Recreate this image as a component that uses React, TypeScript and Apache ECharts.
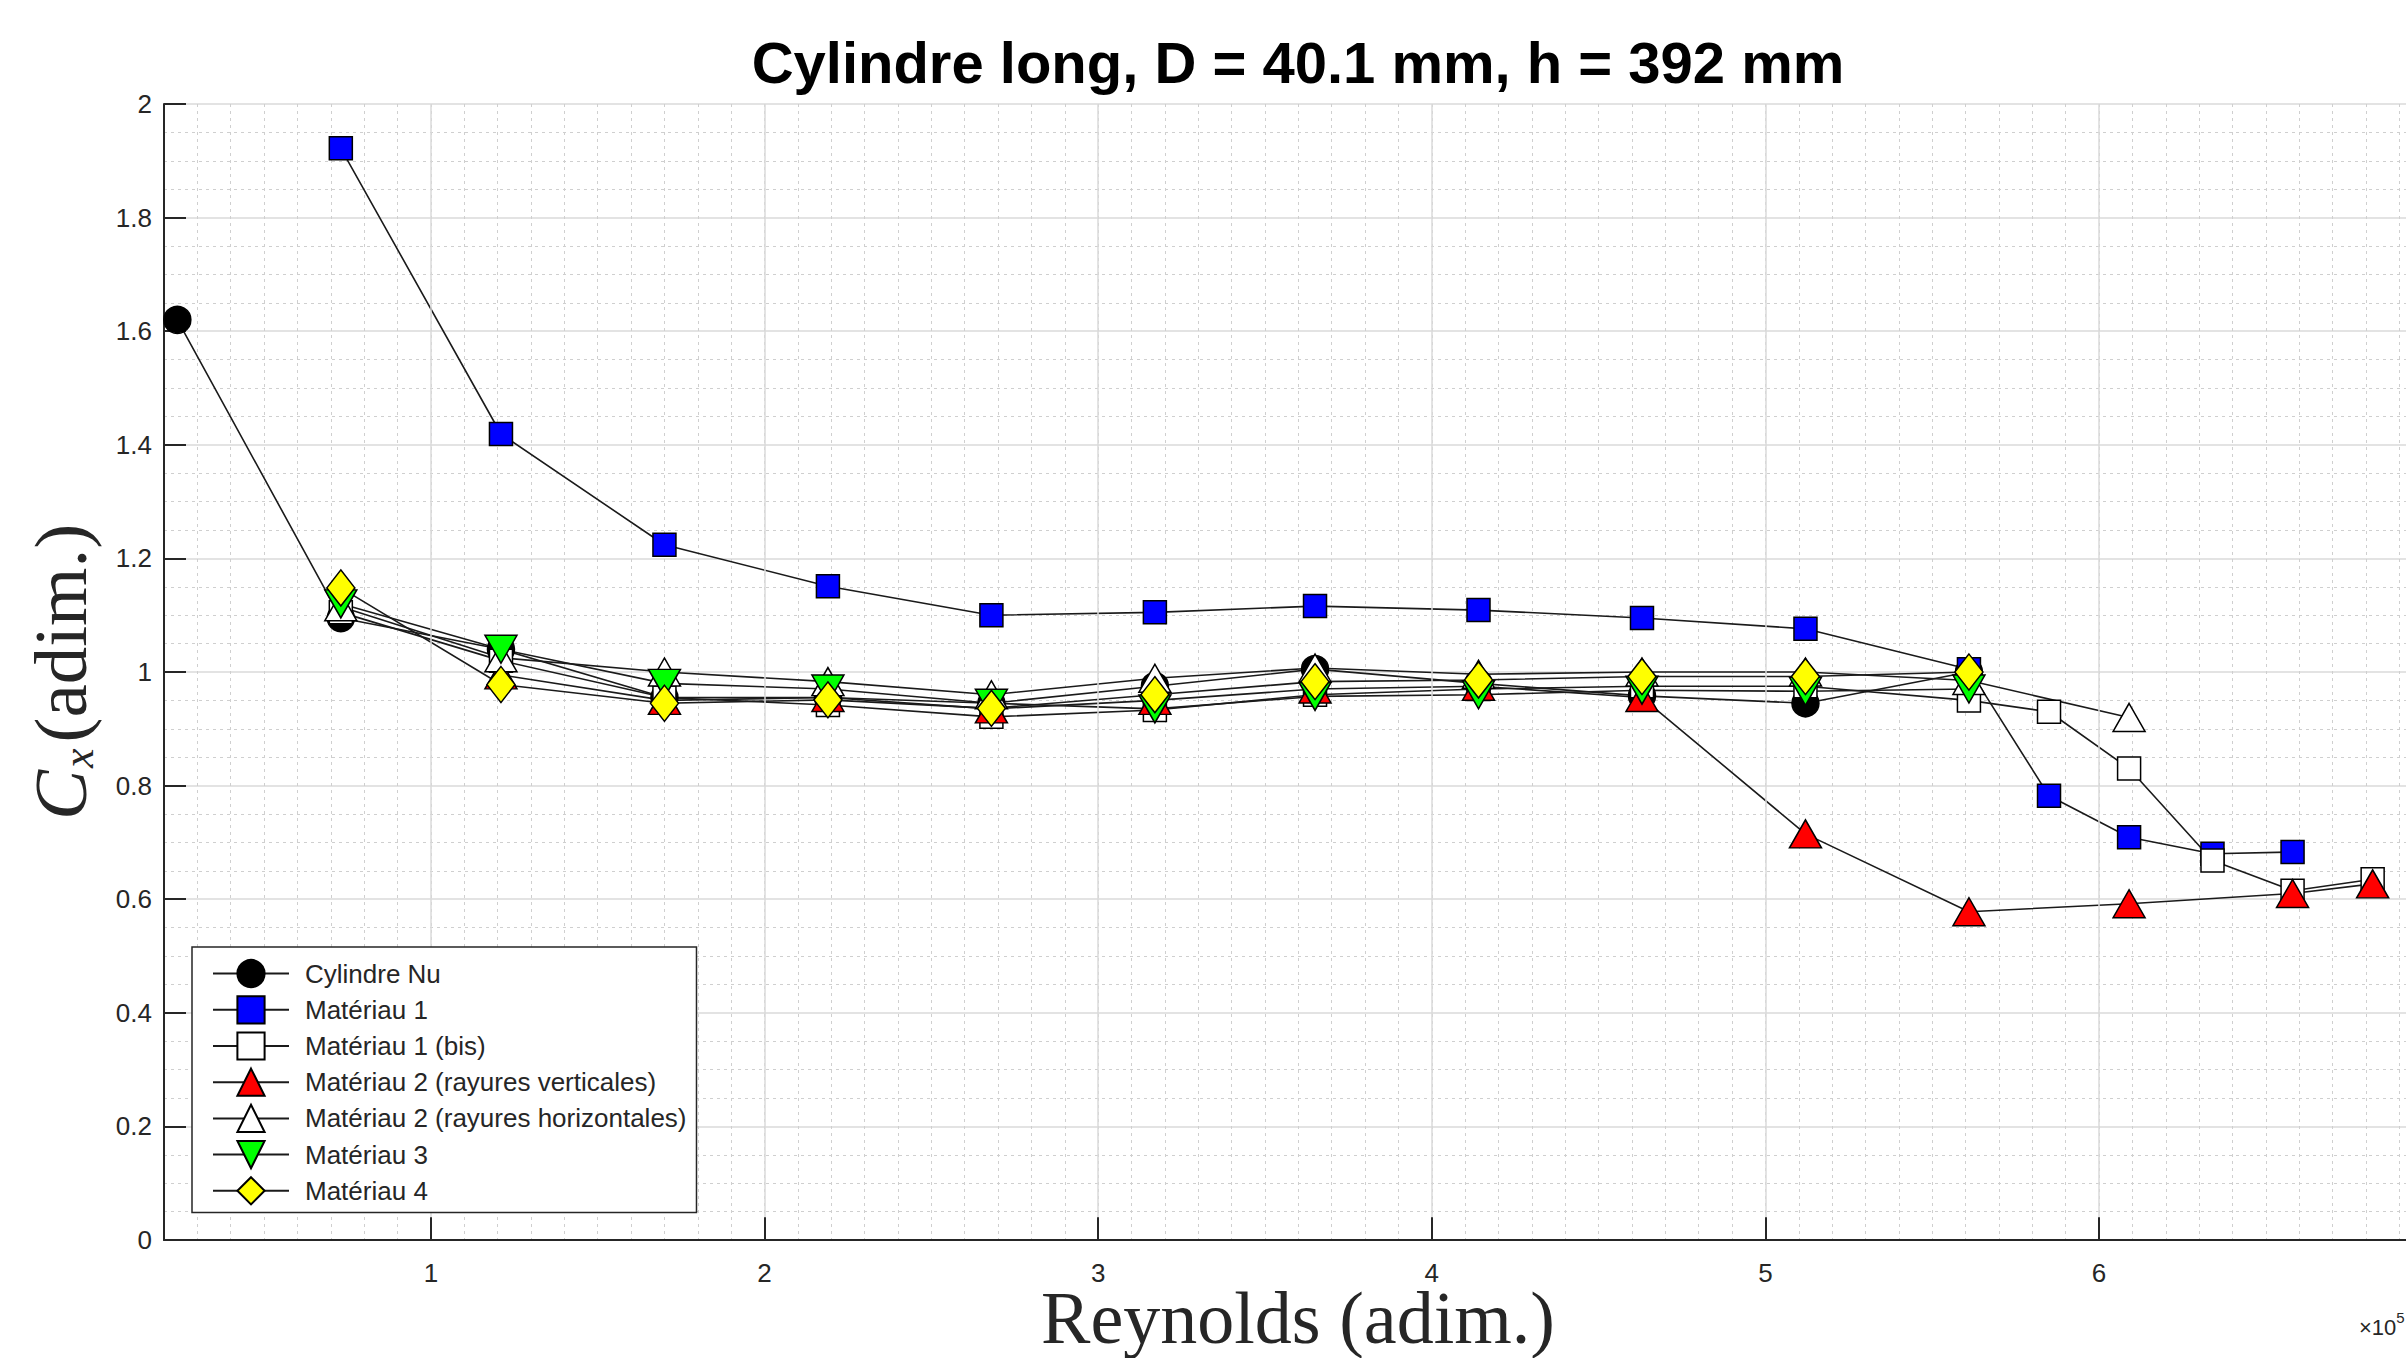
import React, { useEffect, useRef } from "react";
import * as echarts from "echarts";

// Reynolds (×10^5) and Cx values
const reCylindre = [0.24, 0.73, 1.21, 1.7, 2.19, 2.68, 3.17, 3.65, 4.14, 4.63, 5.12, 5.61];
const cxCylindre = [1.62, 1.095, 1.04, 0.955, 0.955, 0.945, 0.975, 1.005, 0.98, 0.958, 0.945, 1.0];

const reMat1 = [0.73, 1.21, 1.7, 2.19, 2.68, 3.17, 3.65, 4.14, 4.63, 5.12, 5.61, 5.85, 6.09, 6.34, 6.58];
const cxMat1 = [1.922, 1.419, 1.224, 1.151, 1.1, 1.105, 1.116, 1.109, 1.095, 1.076, 1.005, 0.782, 0.709, 0.68, 0.683];

const reMat1bis = [0.73, 1.21, 1.7, 2.19, 2.68, 3.17, 3.65, 4.14, 4.63, 5.12, 5.61, 5.85, 6.09, 6.34, 6.58, 6.82];
const cxMat1bis = [1.105, 1.02, 0.955, 0.942, 0.921, 0.933, 0.96, 0.97, 0.975, 0.975, 0.95, 0.93, 0.83, 0.668, 0.615, 0.635];

const reMat2v = [1.21, 1.7, 2.19, 2.68, 3.17, 3.65, 4.14, 4.63, 5.12, 5.61, 6.09, 6.58, 6.82];
const cxMat2v = [0.995, 0.95, 0.955, 0.935, 0.95, 0.97, 0.975, 0.955, 0.715, 0.578, 0.592, 0.61, 0.627];

const reMat2h = [0.73, 1.21, 1.7, 2.19, 2.68, 3.17, 3.65, 4.14, 4.63, 5.12, 5.61, 6.09];
const cxMat2h = [1.115, 1.025, 1.0, 0.983, 0.96, 0.989, 1.007, 0.996, 1.0, 1.0, 0.985, 0.92];

const reMat3 = [0.73, 1.21, 1.7, 2.19, 2.68, 3.17, 3.65, 4.14, 4.63, 5.12, 5.61];
const cxMat3 = [1.12, 1.04, 0.98, 0.97, 0.945, 0.935, 0.957, 0.96, 0.968, 0.966, 0.97];

const reMat4 = [0.73, 1.21, 1.7, 2.19, 2.68, 3.17, 3.65, 4.14, 4.63, 5.12, 5.61];
const cxMat4 = [1.148, 0.978, 0.945, 0.951, 0.936, 0.96, 0.983, 0.986, 0.992, 0.992, 1.0];

const seriesNames = [
  "Cylindre Nu",
  "Matériau 1",
  "Matériau 1 (bis)",
  "Matériau 2 (rayures verticales)",
  "Matériau 2 (rayures horizontales)",
  "Matériau 3",
  "Matériau 4",
];

const xMajorTicks = [1, 2, 3, 4, 5, 6];

const TITLE = "Cylindre long, D = 40.1 mm, h = 392 mm";
const X_TITLE = "Reynolds (adim.)";
const SANS = '"Liberation Sans", Arial, sans-serif';
const SERIF = '"Liberation Serif", "Times New Roman", serif';
const AXIS_COLOR = "#262626";

function makeSeries(
  name: string,
  xs: number[],
  ys: number[],
  symbol: string,
  size: number | number[],
  color: string,
  rotate = 0
) {
  return {
    type: "line",
    name,
    data: xs.map((x, i) => [x, ys[i]]),
    symbol,
    symbolSize: size,
    symbolRotate: rotate,
    showAllSymbol: true,
    lineStyle: { color: "#1a1a1a", width: 1.6 },
    itemStyle: { color, borderColor: "#000", borderWidth: 1.5, opacity: 1 },
    emphasis: { disabled: true },
    z: 3,
  };
}

export default function App() {
  const ref = useRef<HTMLDivElement>(null);

  useEffect(() => {
    if (!ref.current) return;
    const chart = echarts.init(ref.current, null, { renderer: "svg" });

    const option: any = {
      animation: false,
      backgroundColor: "#ffffff",
      grid: { left: 164, top: 104, bottom: 118, right: 0, containLabel: false, outerBoundsMode: "none" },
      graphic: [
        {
          type: "text",
          x: 1298,
          y: 62,
          z: 20,
          style: {
            text: TITLE,
            font: `bold 58px ${SANS}`,
            fill: "#000",
            align: "center",
            verticalAlign: "middle",
            textAlign: "center",
            textVerticalAlign: "middle",
          },
        },
        {
          type: "text",
          x: 1298,
          y: 1318,
          z: 20,
          style: {
            text: X_TITLE,
            font: `74px ${SERIF}`,
            fill: AXIS_COLOR,
            align: "center",
            verticalAlign: "middle",
            textAlign: "center",
            textVerticalAlign: "middle",
          },
        },
        {
          type: "text",
          x: 2359,
          y: 1306,
          z: 20,
          style: {
            text: "{a|×10}{b|5}",
            rich: {
              a: { fontFamily: SANS, fontSize: 22, fill: AXIS_COLOR, color: AXIS_COLOR, padding: [10, 0, 0, 0] },
              b: { fontFamily: SANS, fontSize: 15, fill: AXIS_COLOR, color: AXIS_COLOR, padding: [0, 0, 10, 0] },
            },
          },
        },
      ],
      legend: {
        data: seriesNames,
        orient: "vertical",
        left: 192,
        top: 947,
        padding: [12, 10, 7, 20],
        itemWidth: 76,
        itemHeight: 34,
        itemGap: 7,
        backgroundColor: "#ffffff",
        borderColor: AXIS_COLOR,
        borderWidth: 1.5,
        selectedMode: false,
        textStyle: { fontFamily: SANS, fontSize: 26, color: AXIS_COLOR, padding: [0, 0, 0, 11] },
        z: 10,
      },
      xAxis: {
        type: "value",
        min: 0.2,
        max: 6.92,
        interval: 0.1,
        axisLine: { show: true, onZero: false, lineStyle: { color: AXIS_COLOR, width: 2 } },
        axisTick: { show: false },
        axisLabel: {
          margin: 20,
          fontFamily: SANS,
          fontSize: 26,
          color: AXIS_COLOR,
          formatter: (v: number) => {
            const r = Math.round(v);
            return Math.abs(v - r) < 1e-6 && r <= 6 ? String(r) : "";
          },
        },
        splitLine: { show: true, lineStyle: { color: "#cfcfcf", width: 1, type: [3, 4] } },
      },
      yAxis: {
        type: "value",
        min: 0,
        max: 2,
        interval: 0.2,
        name: "{c|C}{s|x}{p|(adim.)}",
        nameLocation: "middle",
        nameGap: 64,
        nameMoveOverlap: false,
        nameTextStyle: {
          fontFamily: SERIF,
          fontSize: 75,
          color: AXIS_COLOR,
          rich: {
            c: { fontFamily: SERIF, fontStyle: "italic", fontSize: 75, color: AXIS_COLOR },
            s: { fontFamily: SERIF, fontStyle: "italic", fontSize: 44, color: AXIS_COLOR, padding: [36, 6, 0, 2] },
            p: { fontFamily: SERIF, fontSize: 75, color: AXIS_COLOR },
          },
        },
        axisLine: { show: true, onZero: false, lineStyle: { color: AXIS_COLOR, width: 2 } },
        axisTick: { show: true, inside: true, length: 22, lineStyle: { color: AXIS_COLOR, width: 2 } },
        axisLabel: { margin: 12, fontFamily: SANS, fontSize: 26, color: AXIS_COLOR },
        splitLine: { show: true, lineStyle: { color: "#dadada", width: 1.5, type: "solid" } },
        minorTick: { show: false, splitNumber: 4 },
        minorSplitLine: { show: true, lineStyle: { color: "#cfcfcf", width: 1, type: [3, 4] } },
      },
      series: [
        {
          type: "line",
          name: "_majorGrid",
          data: [],
          silent: true,
          z: 1,
          markLine: {
            silent: true,
            animation: false,
            symbol: ["none", "none"],
            label: { show: false },
            lineStyle: { color: "#dadada", width: 1.5, type: "solid" },
            data: xMajorTicks.map((v) => ({ xAxis: v })),
          },
        },
        {
          type: "line",
          name: "_xTicks",
          data: [],
          silent: true,
          z: 4,
          markLine: {
            silent: true,
            animation: false,
            symbol: ["none", "none"],
            label: { show: false },
            lineStyle: { color: AXIS_COLOR, width: 2, type: "solid" },
            data: xMajorTicks.map((v) => [{ coord: [v, 0] }, { coord: [v, 0.04] }]),
          },
        },
        makeSeries(seriesNames[0], reCylindre, cxCylindre, "circle", 27, "#000000"),
        makeSeries(seriesNames[1], reMat1, cxMat1, "rect", 23, "#0000ff"),
        makeSeries(seriesNames[2], reMat1bis, cxMat1bis, "rect", 23, "#ffffff"),
        makeSeries(seriesNames[3], reMat2v, cxMat2v, "triangle", [32, 28], "#ff0000"),
        makeSeries(seriesNames[4], reMat2h, cxMat2h, "triangle", [32, 28], "#ffffff"),
        makeSeries(seriesNames[5], reMat3, cxMat3, "triangle", [32, 28], "#00ff00", 180),
        makeSeries(seriesNames[6], reMat4, cxMat4, "diamond", [28, 36], "#ffff00"),
      ],
    };

    chart.setOption(option);
    return () => chart.dispose();
  }, []);

  return (
    <div
      ref={ref}
      style={{ position: "absolute", left: 0, top: 0, width: 2406, height: 1358, background: "#fff" }}
    />
  );
}
